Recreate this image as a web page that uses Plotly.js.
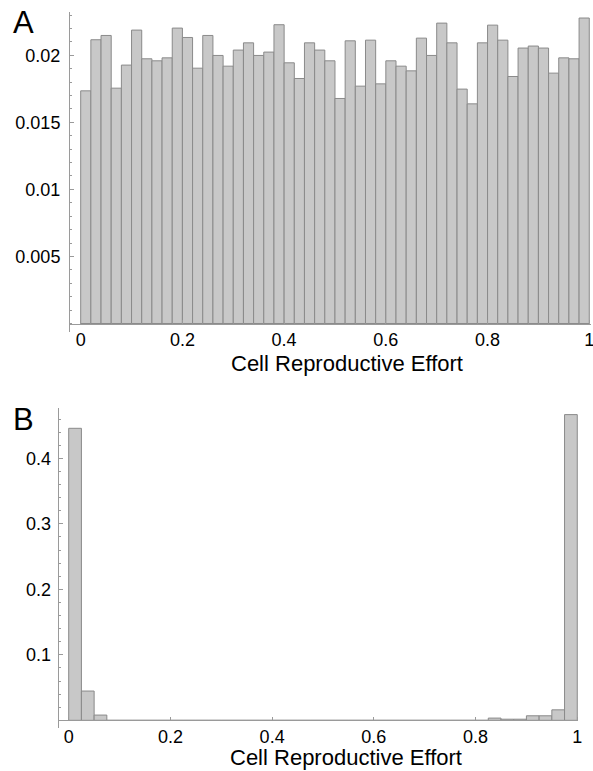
<!DOCTYPE html>
<html>
<head>
<meta charset="utf-8">
<script src="https://cdn.plot.ly/plotly-3.0.1.min.js"></script>
<style>html,body{margin:0;padding:0;background:#fff;}#chart{width:593px;height:771px;}</style>
</head>
<body>
<div id="chart"></div>
<script>
// Panel A: 50 bins of width 0.02 on [0,1]
const binStartA = 0;
const binWidthA = 0.02;
const densityA = [
  0.01735, 0.02116, 0.02148, 0.01755, 0.01927, 0.02188, 0.01974, 0.01959, 0.01981, 0.02203,
  0.02133, 0.01904, 0.02148, 0.01999, 0.01919, 0.02039, 0.02093, 0.01999, 0.02024, 0.02228,
  0.01944, 0.01827, 0.02093, 0.02039, 0.01959, 0.01678, 0.02108, 0.01770, 0.02113, 0.01787,
  0.01959, 0.01919, 0.01884, 0.02128, 0.01999, 0.02240, 0.02093, 0.01748, 0.01638, 0.02093,
  0.02225, 0.02113, 0.01842, 0.02054, 0.02069, 0.02054, 0.01867, 0.01981, 0.01974, 0.02278
];
// Panel B: 40 bins of width 0.025 on [0,1]
const binStartB = 0;
const binWidthB = 0.025;
const densityB = [
  0.4458, 0.0447, 0.0080, 0, 0, 0, 0, 0, 0, 0,
  0, 0, 0, 0, 0, 0, 0, 0, 0, 0,
  0, 0, 0, 0, 0, 0, 0, 0, 0, 0,
  0, 0, 0, 0.0034, 0.0017, 0.0017, 0.0069, 0.0069, 0.0160, 0.4667
];
const xTickVals = [0, 0.2, 0.4, 0.6, 0.8, 1];
const xTickText = ['0', '0.2', '0.4', '0.6', '0.8', '1'];
const yTickValsA = [0.005, 0.01, 0.015, 0.02];
const yTickTextA = ['0.005', '0.01', '0.015', '0.02'];
const yTickValsB = [0.1, 0.2, 0.3, 0.4];
const yTickTextB = ['0.1', '0.2', '0.3', '0.4'];
const axisTitle = 'Cell Reproductive Effort';
const panelLabels = ['A', 'B'];

const centers = (start, w, n) => Array.from({length: n}, (_, i) => start + (i + 0.5) * w);

const FONT = 'Liberation Sans, Arial, Helvetica, sans-serif';
const AX = '#9a9a9a';
const barStyle = {color: '#c8c8c8', line: {color: '#8a8a8a', width: 1}};

const traces = [
  {type: 'bar', x: centers(binStartA, binWidthA, densityA.length), y: densityA,
   width: binWidthA, marker: barStyle, xaxis: 'x', yaxis: 'y', hoverinfo: 'x+y'},
  {type: 'bar', x: centers(binStartB, binWidthB, densityB.length), y: densityB,
   width: binWidthB, marker: barStyle, xaxis: 'x2', yaxis: 'y2', hoverinfo: 'x+y'}
];

function xa(domain, range, pos) {
  return {domain: domain, range: range, anchor: 'free', position: pos,
    showline: true, linecolor: AX, linewidth: 1, ticks: 'inside', ticklen: 3.5,
    tickcolor: AX, tickvals: xTickVals, ticktext: xTickText, ticklabeloverflow: 'allow',
    tickfont: {size: 18, color: '#000', family: FONT},
    showgrid: false, zeroline: false, fixedrange: true};
}
function ya(domain, range, vals, text, minorDt, anchor, standoff) {
  return {domain: domain, range: range, anchor: anchor,
    showline: true, linecolor: AX, linewidth: 1, ticks: 'inside', ticklen: 4,
    tickcolor: AX, tickvals: vals, ticktext: text, ticklabelstandoff: standoff,
    tickfont: {size: 18, color: '#000', family: FONT},
    minor: {ticks: 'inside', tick0: 0, dtick: minorDt, ticklen: 2.5, tickcolor: AX, showgrid: false},
    showgrid: false, zeroline: false, fixedrange: true};
}

const layout = {
  width: 593, height: 771,
  margin: {l: 0, r: 0, t: 0, b: 0},
  paper_bgcolor: '#fff', plot_bgcolor: 'rgba(0,0,0,0)',
  showlegend: false, barmode: 'overlay',
  font: {family: FONT, color: '#000'},
  xaxis: xa([0.11804, 0.99713], [-0.02104, 1.004], 0.5804),
  yaxis: ya([0.5698, 0.9848], [-0.00061, 0.02325], yTickValsA, yTickTextA, 0.001, 'x', 5),
  xaxis2: xa([0.09899, 0.9752], [-0.01966, 1.002], 0.06576),
  yaxis2: ya([0.05538, 0.4704], [-0.0122, 0.4763], yTickValsB, yTickTextB, 0.02, 'x2', 3),
  annotations: [
    {text: panelLabels[0], xref: 'paper', yref: 'paper', x: 23.8 / 593, y: 1 - 22 / 771,
     xanchor: 'center', yanchor: 'middle', showarrow: false, font: {size: 31, family: FONT}},
    {text: panelLabels[1], xref: 'paper', yref: 'paper', x: 23 / 593, y: 1 - 419.5 / 771,
     xanchor: 'center', yanchor: 'middle', showarrow: false, font: {size: 31, family: FONT}},
    {text: axisTitle, xref: 'paper', yref: 'paper', x: 346.5 / 593, y: 1 - 363 / 771,
     xanchor: 'center', yanchor: 'middle', showarrow: false, font: {size: 22, family: FONT}},
    {text: axisTitle, xref: 'paper', yref: 'paper', x: 346 / 593, y: 0.5 / 771,
     xanchor: 'center', yanchor: 'bottom', borderpad: 0, showarrow: false, font: {size: 22, family: FONT}}
  ]
};

Plotly.newPlot('chart', traces, layout, {displayModeBar: false, staticPlot: true});
</script>
</body>
</html>
